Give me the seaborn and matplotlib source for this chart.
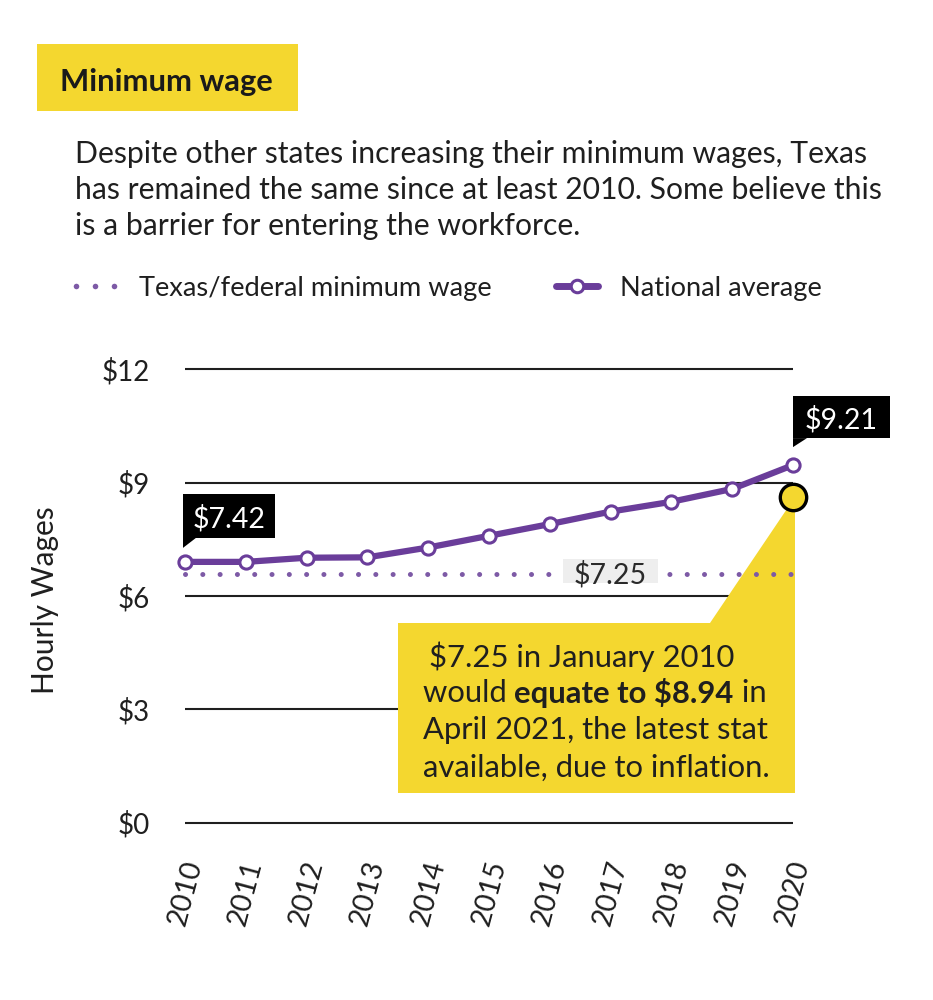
import matplotlib
matplotlib.use("Agg")
import matplotlib.pyplot as plt
import seaborn as sns
import pandas as pd
from matplotlib.patches import Rectangle, Polygon
from matplotlib.lines import Line2D
from matplotlib.transforms import ScaledTranslation

# ---- data ----
years = [2010, 2011, 2012, 2013, 2014, 2015, 2016, 2017, 2018, 2019, 2020]
national_avg = [6.90, 6.90, 7.01, 7.02, 7.28, 7.59, 7.90, 8.23, 8.49, 8.83, 9.46]
texas_min = [6.58, 6.58, 6.58, 6.58, 6.58, 6.58, 6.58, 6.58, 6.58, 6.58, 6.58]
inflation_2020 = 8.61
y_ticks = [0, 3, 6, 9, 12]
y_tick_labels = ["$0", "$3", "$6", "$9", "$12"]

start_label = "$7.42"
end_label = "$9.21"
texas_label = "$7.25"

title = "Minimum wage"
subtitle = ["Despite other states increasing their minimum wages, Texas",
            "has remained the same since at least 2010. Some believe this",
            "is a barrier for entering the workforce."]
legend_texas = "Texas/federal minimum wage"
legend_national = "National average"
y_label = "Hourly Wages"

PURPLE = "#6a3d9a"
DOTS = "#7d5aa6"
YELLOW = "#f4d72f"
INK = "#1f1f1f"

W, H = 933, 1000

sns.set_theme(style="white")
plt.rcParams["font.family"] = ["Lato", "DejaVu Sans"]
plt.rcParams["text.parse_math"] = False
plt.rcParams["text.color"] = INK


def fx(px):
    return px / W


def fy(py):
    return 1 - py / H


fig = plt.figure(figsize=(W / 100, H / 100), dpi=100)
fig.patch.set_facecolor("white")

# axes placed so that 2010 -> x=185px, 2020 -> 793px, $0 -> 822.7px, $12 -> 369px
ax = fig.add_axes([fx(154.6), fy(841.6), 668.8 / W, 491.4 / H])
ax.set_xlim(2009.5, 2020.5)
ax.set_ylim(-0.5, 12.5)
ax.set_facecolor("none")
sns.despine(ax=ax, left=True, bottom=True)

df = pd.DataFrame({"year": years, "national": national_avg, "texas": texas_min})

# gridlines only across the data range
ax.hlines(y_ticks, years[0], years[-1], color=INK, lw=1.5, zorder=1)

# inflation call-out (yellow box + wedge to the 2020 point)
ax.add_patch(Rectangle((2013.50, 0.79), 6.53, 4.49, facecolor=YELLOW,
                       edgecolor="none", zorder=2, clip_on=False))
ax.add_patch(Polygon([(years[-1] + 0.03, inflation_2020), (years[-1] + 0.03, 5.28),
                      (2018.63, 5.28)], closed=True, facecolor=YELLOW,
                     edgecolor="none", zorder=2, clip_on=False))

sns.lineplot(data=df, x="year", y="texas", ax=ax, color=DOTS, lw=3.6,
             linestyle=(0, (0.01, 3.45)), dash_capstyle="round",
             legend=False, zorder=4)
sns.lineplot(data=df, x="year", y="national", ax=ax, color=PURPLE, lw=4.5,
             marker="o", markersize=9.5, markerfacecolor="white",
             markeredgecolor=PURPLE, markeredgewidth=2.2, legend=False,
             zorder=5, clip_on=False)
ax.plot([years[-1]], [inflation_2020], "o", ms=19, mfc=YELLOW, mec="black",
        mew=2.4, zorder=6, clip_on=False)


def offset_trans(x, y):
    # pixel offsets (in inches at dpi 100) from a data point
    return fig.dpi_scale_trans + ScaledTranslation(x, y, ax.transData)


def value_tag(x, y, text, dx, dy, w, h, tail_w, tail_d):
    tr = offset_trans(x, y)
    ax.add_patch(Rectangle((dx / 100, dy / 100), w / 100, h / 100, transform=tr,
                           facecolor="black", edgecolor="none", zorder=7,
                           clip_on=False))
    ax.add_patch(Polygon([(dx / 100, dy / 100), (dx / 100, (dy - tail_d) / 100),
                          ((dx + tail_w) / 100, dy / 100)], closed=True,
                         transform=tr, facecolor="black", edgecolor="none",
                         zorder=7, clip_on=False))
    ax.text((dx + w / 2) / 100, (dy + h / 2) / 100, text, transform=tr,
            color="white", fontsize=20.5, ha="center", va="center_baseline",
            zorder=8, clip_on=False)


value_tag(years[0], national_avg[0], start_label, -2, 24, 92, 44, 13, 10)
value_tag(years[-1], national_avg[-1], end_label, 0, 27, 97, 42, 14, 9)

# texas value label sitting on the dotted line
tr = offset_trans(2017, texas_min[0])
ax.add_patch(Rectangle((-47.5 / 100, -9 / 100), 95 / 100, 24 / 100, transform=tr,
                       facecolor="#eeeeee", edgecolor="none", zorder=4.5,
                       clip_on=False))
ax.text(0, 2 / 100, texas_label, transform=tr, color="#2a2a2a", fontsize=20.5,
        ha="center", va="center_baseline", zorder=4.6)

# axis ticks and labels
ax.set_yticks(y_ticks, y_tick_labels)
ax.set_xticks(years, [str(y) for y in years])
ax.tick_params(axis="y", length=0, pad=3.3, labelsize=20, labelcolor=INK)
ax.tick_params(axis="x", length=0, pad=11.5, labelsize=20.5, labelcolor=INK,
               labelrotation=75)
for lab in ax.get_xticklabels():
    lab.set_ha("center")
ax.set_xlabel("")
ax.set_ylabel("")
fig.text(fx(45), fy(600), y_label, rotation=90, ha="center", va="center",
         fontsize=21.5, color=INK)

# callout text with a bold run on line two
CALLOUT_SIZE = 22.3
line_x = fx(422.7)
fig.text(fx(429), fy(654), "$7.25 in January 2010", fontsize=CALLOUT_SIZE,
         va="center_baseline", ha="left", zorder=10)
fig.text(line_x, fy(728), "April 2021, the latest stat", fontsize=CALLOUT_SIZE,
         va="center_baseline", ha="left", zorder=10)
fig.text(line_x, fy(765), "available, due to inflation.", fontsize=CALLOUT_SIZE,
         va="center_baseline", ha="left", zorder=10)
renderer = fig.canvas.get_renderer()
x_run = line_x
for piece, weight in [("would ", "normal"), ("equate to $8.94", "bold"), (" in", "normal")]:
    t = fig.text(x_run, fy(691), piece, fontsize=CALLOUT_SIZE, fontweight=weight,
                 va="center_baseline", ha="left", zorder=10)
    x_run = t.get_window_extent(renderer).x1 / W

# header: title box, subtitle, legend
fig.patches.append(Rectangle((fx(37.3), fy(111)), (298 - 37.3) / W, (111 - 44.3) / H,
                             transform=fig.transFigure, facecolor=YELLOW,
                             edgecolor="none", zorder=0))
fig.text(fx(60), fy(79), title, fontsize=22.2, fontweight="bold", color="#1a1a1a",
         va="center_baseline", ha="left")
for i, line in enumerate(subtitle):
    fig.text(fx(75), fy(152 + 35.5 * i), line, fontsize=21.7, va="center_baseline",
             ha="left")

fig.add_artist(Line2D([fx(76), fx(94.6), fx(113.6)], [fy(285.7)] * 3,
                      transform=fig.transFigure, ls="none", marker="o", ms=4,
                      mfc=DOTS, mec="none"))
fig.text(fx(138.6), fy(285.7), legend_texas, fontsize=19.6, va="center_baseline",
         ha="left")
fig.add_artist(Line2D([fx(556), fx(597.5)], [fy(286)] * 2, transform=fig.transFigure,
                      color=PURPLE, lw=5, solid_capstyle="round"))
fig.add_artist(Line2D([fx(577)], [fy(286)], transform=fig.transFigure, ls="none",
                      marker="o", ms=9, mfc="white", mec=PURPLE, mew=2.2))
fig.text(fx(620), fy(285.7), legend_national, fontsize=19.6, va="center_baseline",
         ha="left")

fig.savefig("out.png", dpi=100, facecolor="white")
